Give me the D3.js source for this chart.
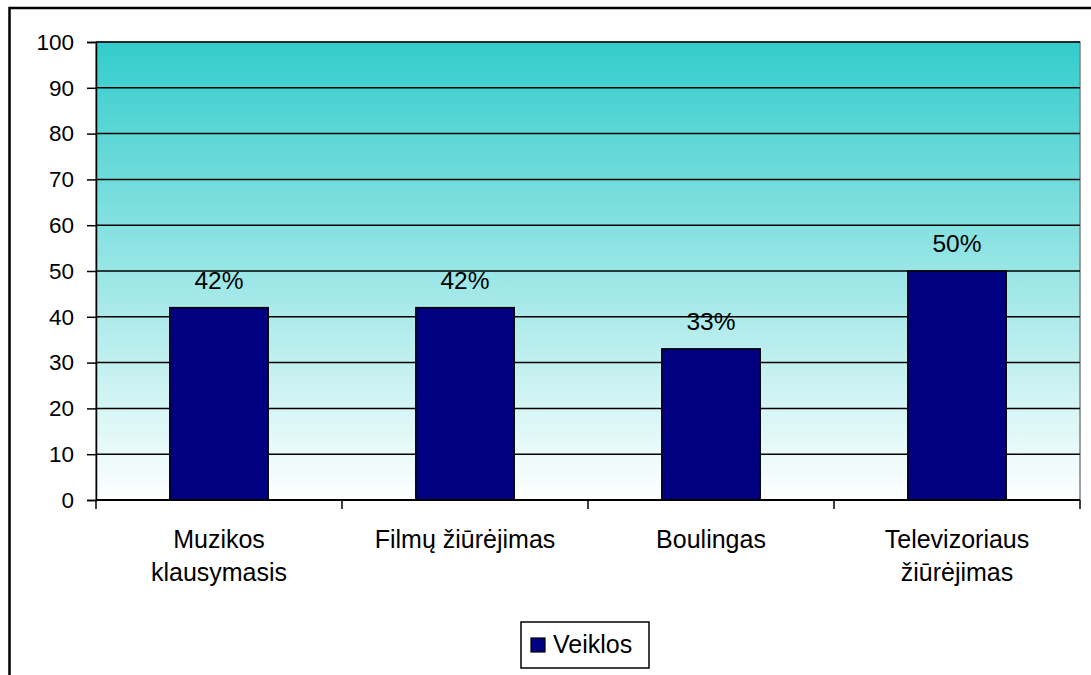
<!DOCTYPE html>
<html>
<head>
<meta charset="utf-8">
<script src="https://cdn.jsdelivr.net/npm/d3@7"></script>
<style>
  html, body { margin: 0; padding: 0; background: #fff; }
  text { font-family: "Liberation Sans", Arial, sans-serif; fill: #000; }
</style>
</head>
<body>
<svg id="chart" width="1091" height="675"></svg>
<script>
// Activity shares (percent)
const categories = [["Muzikos", "klausymasis"], ["Filmų žiūrėjimas"], ["Boulingas"], ["Televizoriaus", "žiūrėjimas"]];
const values = [42, 42, 33, 50];
const yTicks = [0, 10, 20, 30, 40, 50, 60, 70, 80, 90, 100];
const seriesName = "Veiklos";

const svg = d3.select("#chart");
const W = 1091, H = 675;
const plot = { left: 96, top: 42, right: 1080, bottom: 500 };
const FONT = "Liberation Sans, Arial, sans-serif";

// Outer frame (right and bottom edges fall outside the canvas)
svg.append("rect")
  .attr("x", 9.5).attr("y", 8)
  .attr("width", W + 10).attr("height", H + 10)
  .attr("fill", "#fff").attr("stroke", "#000").attr("stroke-width", 2.5);

// Plot background gradient: teal at top fading to white
const defs = svg.append("defs");
const grad = defs.append("linearGradient")
  .attr("id", "bg").attr("x1", 0).attr("y1", 0).attr("x2", 0).attr("y2", 1);
grad.append("stop").attr("offset", "0%").attr("stop-color", "#33CCCC");
grad.append("stop").attr("offset", "100%").attr("stop-color", "#FFFFFF");

svg.append("rect")
  .attr("x", plot.left).attr("y", plot.top)
  .attr("width", plot.right - plot.left).attr("height", plot.bottom - plot.top)
  .attr("fill", "url(#bg)")
  .attr("stroke", "#808080").attr("stroke-width", 1.5);

const x = d3.scaleBand()
  .domain(d3.range(categories.length))
  .range([plot.left, plot.right])
  .paddingInner(0).paddingOuter(0);

const y = d3.scaleLinear().domain([0, 100]).range([plot.bottom, plot.top]);

// Horizontal gridlines
svg.append("g").selectAll("line")
  .data(yTicks.filter(t => t > 0))
  .join("line")
  .attr("x1", plot.left).attr("x2", plot.right)
  .attr("y1", d => y(d)).attr("y2", d => y(d))
  .attr("stroke", "#000").attr("stroke-width", 1.5);

// Bars
const barW = x.bandwidth() * 0.4;
svg.append("g").selectAll("rect")
  .data(values)
  .join("rect")
  .attr("x", (d, i) => x(i) + (x.bandwidth() - barW) / 2)
  .attr("y", d => y(d))
  .attr("width", barW)
  .attr("height", d => y(0) - y(d))
  .attr("fill", "#000080")
  .attr("stroke", "#000").attr("stroke-width", 1.5);

// Value labels
svg.append("g").selectAll("text")
  .data(values)
  .join("text")
  .attr("x", (d, i) => x(i) + x.bandwidth() / 2)
  .attr("y", d => y(d) - 19)
  .attr("text-anchor", "middle")
  .attr("font-size", 24.5)
  .text(d => d + "%");

// Y axis
const yAxis = svg.append("g")
  .attr("transform", `translate(${plot.left},0)`)
  .call(d3.axisLeft(y).tickValues(yTicks).tickSize(9).tickPadding(13).tickFormat(d3.format("d")));
yAxis.select(".domain").attr("stroke", "#000").attr("stroke-width", 1.5);
yAxis.selectAll(".tick line").attr("stroke", "#000").attr("stroke-width", 1.5);
yAxis.selectAll(".tick text")
  .attr("font-size", 22.5).attr("font-family", FONT)
  .attr("fill", "#000");

// X axis: baseline with ticks at category boundaries
const xAxisG = svg.append("g");
xAxisG.append("line")
  .attr("x1", plot.left).attr("x2", plot.right)
  .attr("y1", y(0)).attr("y2", y(0))
  .attr("stroke", "#000").attr("stroke-width", 2);
xAxisG.selectAll("line.tick")
  .data(d3.range(categories.length + 1))
  .join("line")
  .attr("class", "tick")
  .attr("x1", i => i < categories.length ? x(i) : plot.right)
  .attr("x2", i => i < categories.length ? x(i) : plot.right)
  .attr("y1", y(0)).attr("y2", y(0) + 9)
  .attr("stroke", "#000").attr("stroke-width", 1.5);

// Category labels (wrapped onto lines)
const catLabels = svg.append("g").selectAll("text")
  .data(categories)
  .join("text")
  .attr("text-anchor", "middle")
  .attr("font-size", 25);
catLabels.each(function(lines, i) {
  const t = d3.select(this);
  lines.forEach((ln, k) => {
    t.append("tspan")
      .attr("x", x(i) + x.bandwidth() / 2)
      .attr("y", 548 + k * 33)
      .text(ln);
  });
});

// Legend
const lg = svg.append("g");
lg.append("rect")
  .attr("x", 521).attr("y", 622).attr("width", 128).attr("height", 46)
  .attr("fill", "#fff").attr("stroke", "#000").attr("stroke-width", 1.5);
lg.append("rect")
  .attr("x", 531).attr("y", 638).attr("width", 14).attr("height", 14)
  .attr("fill", "#000080").attr("stroke", "#000").attr("stroke-width", 1.2);
lg.append("text")
  .attr("x", 553).attr("y", 653)
  .attr("font-size", 25)
  .text(seriesName);
</script>
</body>
</html>
